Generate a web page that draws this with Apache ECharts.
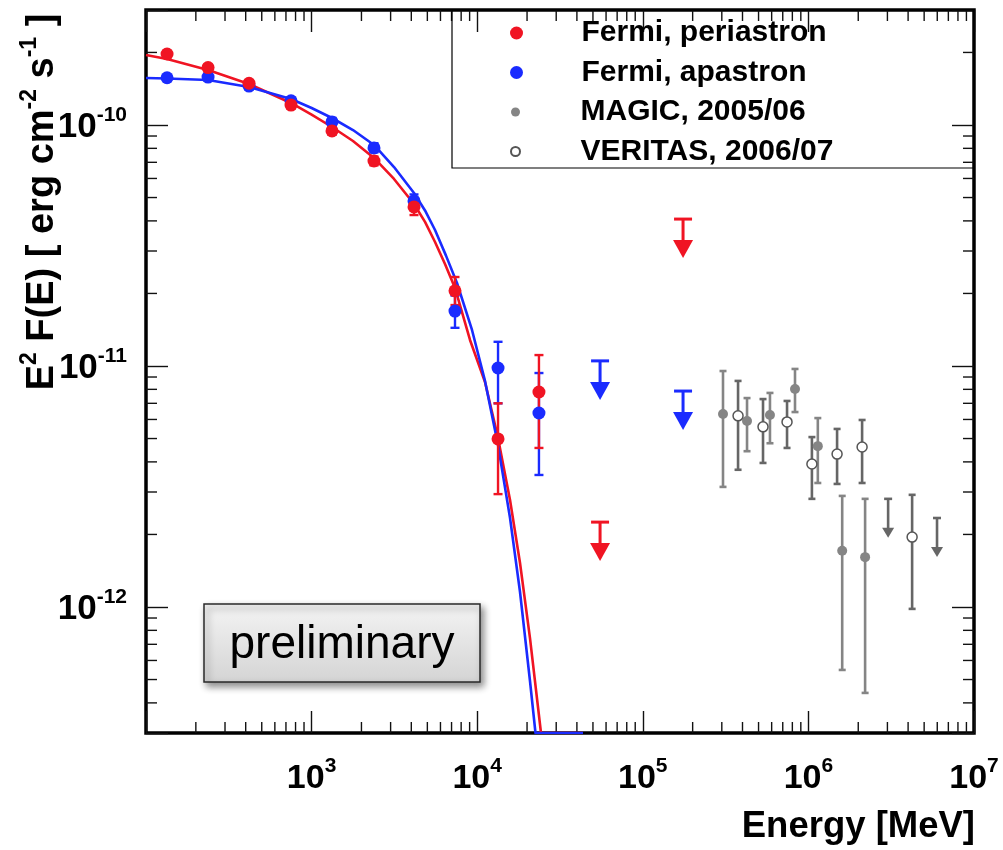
<!DOCTYPE html>
<html>
<head>
<meta charset="utf-8">
<script src="https://cdn.jsdelivr.net/npm/echarts@6/dist/echarts.min.js"></script>
<style>
  html, body { margin: 0; padding: 0; background: #ffffff; }
  #chart { width: 1003px; height: 850px; }
</style>
</head>
<body>
<div id="chart"></div>
<script>
// ---- Fermi-LAT spectral points: energy [MeV], E^2 F(E) [erg cm^-2 s^-1] ----
const fermiEnergy = [134, 237, 419, 751, 1328, 2381, 4153, 7343, 13360, 23600];

const periFlux = [1.97e-10, 1.73e-10, 1.49e-10, 1.21e-10, 9.45e-11, 7.09e-11, 4.57e-11, 2.05e-11, 4.98e-12, 7.8e-12];
const periLow  = [1.91e-10, 1.68e-10, 1.45e-10, 1.17e-10, 9.1e-11, 6.8e-11, 4.23e-11, 1.79e-11, 2.94e-12, 4.57e-12];
const periHigh = [2.03e-10, 1.78e-10, 1.53e-10, 1.25e-10, 9.8e-11, 7.4e-11, 4.93e-11, 2.34e-11, 7.0e-12, 1.11e-11];

const apoFlux = [1.57e-10, 1.58e-10, 1.45e-10, 1.26e-10, 1.03e-10, 8.03e-11, 4.84e-11, 1.69e-11, 9.81e-12, 6.38e-12];
const apoLow  = [1.53e-10, 1.53e-10, 1.41e-10, 1.22e-10, 9.9e-11, 7.7e-11, 4.5e-11, 1.44e-11, 7.0e-12, 3.53e-12];
const apoHigh = [1.61e-10, 1.63e-10, 1.49e-10, 1.30e-10, 1.07e-10, 8.4e-11, 5.15e-11, 1.96e-11, 1.26e-11, 9.35e-12];

// Fermi upper limits
const fermiUlEnergy = [55200, 175000];
const periUl = [2.25e-12, 4.07e-11];
const apoUl  = [1.05e-11, 7.87e-12];

// ---- Fitted spectral models (power law with exponential cut-off) ----
const periCurveE = [100, 134, 237, 419, 751, 1000, 1328, 1778, 2381, 3145, 4153, 4840, 5563, 6391, 7343, 9048, 11145, 13356, 15785, 18136, 20834, 24283, 43550];
const periCurveF = [1.952e-10, 1.879e-10, 1.691e-10, 1.48e-10, 1.234e-10, 1.105e-10, 9.81e-11, 8.58e-11, 7.3e-11, 5.97e-11, 4.7e-11, 3.96e-11, 3.27e-11, 2.65e-11, 2.107e-11, 1.282e-11, 8.58e-12, 5.03e-12, 2.78e-12, 1.523e-12, 7.43e-13, 3.0e-13, 3.0e-13];

const apoCurveE = [100, 134, 237, 419, 751, 1000, 1328, 1778, 2381, 3145, 4153, 4840, 5563, 6480, 7551, 9303, 11145, 13356, 15785, 18136, 20834, 22490, 43550];
const apoCurveF = [1.567e-10, 1.56e-10, 1.537e-10, 1.438e-10, 1.282e-10, 1.176e-10, 1.069e-10, 9.53e-11, 8.26e-11, 6.69e-11, 5.22e-11, 4.42e-11, 3.666e-11, 2.87e-11, 2.21e-11, 1.411e-11, 8.67e-12, 4.7e-12, 2.34e-12, 1.154e-12, 4.93e-13, 3.0e-13, 3.0e-13];

// ---- MAGIC 2005/06 ----
const magicEnergy = [3.05e5, 4.26e5, 5.86e5, 8.30e5, 1.14e6, 1.60e6, 2.20e6];
const magicFlux = [6.32e-12, 5.91e-12, 6.26e-12, 8.03e-12, 4.65e-12, 1.71e-12, 1.61e-12];
const magicLow  = [3.15e-12, 4.43e-12, 4.78e-12, 6.44e-12, 3.27e-12, 5.48e-13, 4.40e-13];
const magicHigh = [9.53e-12, 7.36e-12, 7.73e-12, 9.72e-12, 6.08e-12, 2.89e-12, 2.81e-12];
const magicUlEnergy = [3.03e6, 5.98e6];
const magicUl = [2.81e-12, 2.34e-12];

// ---- VERITAS 2006/07 ----
const veritasEnergy = [3.76e5, 5.32e5, 7.43e5, 1.05e6, 1.49e6, 2.11e6, 4.23e6];
const veritasFlux = [6.21e-12, 5.59e-12, 5.86e-12, 3.92e-12, 4.31e-12, 4.61e-12, 1.95e-12];
const veritasLow  = [3.71e-12, 3.96e-12, 4.57e-12, 2.81e-12, 3.24e-12, 3.27e-12, 9.82e-13];
const veritasHigh = [8.67e-12, 7.29e-12, 7.16e-12, 5.07e-12, 5.48e-12, 5.97e-12, 2.92e-12];

// ---- Axes ----
const X_MIN = 1e2, X_MAX = 1e7;
const Y_MIN = 3e-13, Y_MAX = 3e-10;
const xLabelExponents = [3, 4, 5, 6, 7];
const yLabelExponents = [-12, -11, -10];
const minorMantissas = [2, 3, 4, 5, 6, 7, 8, 9];
const xMinorDecades = [2, 3, 4, 5, 6];
const yMinorDecades = [-13, -12, -11, -10];

const FONT = '"Liberation Sans", Arial, Helvetica, sans-serif';
const RED = '#f01423';
const BLUE = '#1a2bff';
const MAGIC_GREY = '#858585';
const VERITAS_GREY = '#666666';

const xMinorTicks = [];
xMinorDecades.forEach(d => minorMantissas.forEach(m => xMinorTicks.push(m * Math.pow(10, d))));
const yMinorTicks = [];
yMinorDecades.forEach(d => minorMantissas.forEach(m => {
  const v = m * Math.pow(10, d);
  if (v > Y_MIN * 1.001 && v < Y_MAX * 0.999) yMinorTicks.push(v);
}));

function zip(a, b) { return a.map((v, i) => [v, b[i]]); }

function powerLabel(exps) {
  return function (v) {
    const e = Math.round(Math.log10(v));
    if (Math.abs(Math.log10(v) - e) > 1e-6 || exps.indexOf(e) < 0) return '';
    return '{b|10}{s|' + e + '}';
  };
}

// vertical error bars with small end caps
function errorBars(name, energy, low, high, color, capHalf, width) {
  return {
    type: 'custom', name: name, silent: true, clip: true, z: 3,
    data: energy.map((e, i) => [e, low[i], high[i]]),
    encode: { x: 0, y: [1, 2] },
    renderItem: function (params, api) {
      const e = api.value(0);
      const lo = api.coord([e, api.value(1)]);
      const hi = api.coord([e, api.value(2)]);
      const st = { stroke: color, lineWidth: width };
      return {
        type: 'group', children: [
          { type: 'line', shape: { x1: lo[0], y1: lo[1], x2: hi[0], y2: hi[1] }, style: st },
          { type: 'line', shape: { x1: lo[0] - capHalf, y1: lo[1], x2: lo[0] + capHalf, y2: lo[1] }, style: st },
          { type: 'line', shape: { x1: hi[0] - capHalf, y1: hi[1], x2: hi[0] + capHalf, y2: hi[1] }, style: st }
        ]
      };
    }
  };
}

// upper limits: cap at the limit, stem and arrow head pointing down
function upperLimits(name, energy, limit, color, o) {
  return {
    type: 'custom', name: name, silent: true, clip: true, z: 4,
    data: zip(energy, limit),
    encode: { x: 0, y: 1 },
    renderItem: function (params, api) {
      const p = api.coord([api.value(0), api.value(1)]);
      const x = p[0], y = p[1];
      const st = { stroke: color, lineWidth: o.width };
      return {
        type: 'group', children: [
          { type: 'line', shape: { x1: x - o.capHalf, y1: y, x2: x + o.capHalf, y2: y }, style: st },
          { type: 'line', shape: { x1: x, y1: y, x2: x, y2: y + o.len - o.headH + 1 }, style: st },
          { type: 'polygon', shape: { points: [[x - o.headHalf, y + o.len - o.headH], [x + o.headHalf, y + o.len - o.headH], [x, y + o.len]] },
            style: { fill: color } }
        ]
      };
    }
  };
}

const tickStyle = { stroke: '#111', lineWidth: 1.4 };

const xMinorSeries = {
  type: 'custom', name: 'x minor ticks', silent: true, z: 1,
  data: xMinorTicks.map(v => [v, Y_MIN]),
  encode: { x: 0, y: 1 },
  renderItem: function (params, api) {
    const v = api.value(0);
    const b = api.coord([v, Y_MIN]);
    const t = api.coord([v, Y_MAX]);
    return {
      type: 'group', children: [
        { type: 'line', shape: { x1: b[0], y1: b[1], x2: b[0], y2: b[1] - 11 }, style: tickStyle },
        { type: 'line', shape: { x1: t[0], y1: t[1], x2: t[0], y2: t[1] + 11 }, style: tickStyle }
      ]
    };
  }
};

const yMinorSeries = {
  type: 'custom', name: 'y minor ticks', silent: true, z: 1,
  data: yMinorTicks.map(v => [X_MIN, v]),
  encode: { x: 0, y: 1 },
  renderItem: function (params, api) {
    const v = api.value(1);
    const l = api.coord([X_MIN, v]);
    const r = api.coord([X_MAX, v]);
    return {
      type: 'group', children: [
        { type: 'line', shape: { x1: l[0], y1: l[1], x2: l[0] + 11, y2: l[1] }, style: tickStyle },
        { type: 'line', shape: { x1: r[0], y1: r[1], x2: r[0] - 11, y2: r[1] }, style: tickStyle }
      ]
    };
  }
};

const xLabelRich = {
  b: { fontFamily: FONT, fontWeight: 'bold', fontSize: 34, color: '#000', lineHeight: 40, verticalAlign: 'bottom' },
  s: { fontFamily: FONT, fontWeight: 'bold', fontSize: 21, color: '#000', lineHeight: 21, verticalAlign: 'top' }
};
const yLabelRich = {
  b: { fontFamily: FONT, fontWeight: 'bold', fontSize: 35, color: '#000', lineHeight: 40, verticalAlign: 'bottom' },
  s: { fontFamily: FONT, fontWeight: 'bold', fontSize: 21, color: '#000', lineHeight: 21, verticalAlign: 'top' }
};

const majorTick = { show: true, inside: true, length: 22, lineStyle: { color: '#111', width: 1.4 } };

const chart = echarts.init(document.getElementById('chart'), null, { renderer: 'canvas' });

chart.setOption({
  animation: false,
  backgroundColor: '#ffffff',
  grid: {
    left: 146, right: 29, top: 10, bottom: 117,
    show: true, borderColor: '#000', borderWidth: 3.5, backgroundColor: 'transparent',
    containLabel: false, outerBoundsMode: 'none'
  },
  xAxis: [
    {
      type: 'log', logBase: 10, min: X_MIN, max: X_MAX, position: 'bottom',
      axisLine: { show: false }, splitLine: { show: false },
      axisTick: majorTick,
      axisLabel: { show: true, margin: 23, formatter: powerLabel(xLabelExponents), rich: xLabelRich, hideOverlap: false }
    },
    {
      type: 'log', logBase: 10, min: X_MIN, max: X_MAX, position: 'top',
      axisLine: { show: false }, splitLine: { show: false },
      axisTick: majorTick, axisLabel: { show: false }
    }
  ],
  yAxis: [
    {
      type: 'log', logBase: 10, min: Y_MIN, max: Y_MAX, position: 'left',
      axisLine: { show: false }, splitLine: { show: false },
      axisTick: majorTick,
      axisLabel: { show: true, margin: 19, formatter: powerLabel(yLabelExponents), rich: yLabelRich, hideOverlap: false }
    },
    {
      type: 'log', logBase: 10, min: Y_MIN, max: Y_MAX, position: 'right',
      axisLine: { show: false }, splitLine: { show: false },
      axisTick: majorTick, axisLabel: { show: false }
    }
  ],
  legend: [
    {
      data: ['Fermi, periastron', 'Fermi, apastron'],
      orient: 'vertical', left: 510, top: 18, padding: 0,
      itemWidth: 120, itemHeight: 13, itemGap: 9.5, selectedMode: false,
      textStyle: { fontFamily: FONT, fontWeight: 'bold', fontSize: 30, color: '#000', lineHeight: 28 }
    },
    {
      data: ['MAGIC, 2005/06', 'VERITAS, 2006/07'],
      orient: 'vertical', left: 510, top: 97, padding: 0,
      itemWidth: 120, itemHeight: 9, itemGap: 9.5, selectedMode: false,
      textStyle: { fontFamily: FONT, fontWeight: 'bold', fontSize: 30, color: '#000', lineHeight: 28 }
    }
  ],
  graphic: [
    // legend frame
    { type: 'rect', z: 10, shape: { x: 452, y: 10, width: 522, height: 158 },
      style: { fill: 'none', stroke: '#000', lineWidth: 1.2 } },
    // y axis title
    { type: 'text', z: 10, x: 40, y: 202, rotation: Math.PI / 2,
      style: {
        text: '{t|E}{u|2}{t| F(E) [ erg cm}{u|-2}{t| s}{u|-1}{t| ]}',
        align: 'center', verticalAlign: 'middle',
        rich: {
          t: { fontFamily: FONT, fontWeight: 'bold', fontSize: 38, fill: '#000', lineHeight: 44, verticalAlign: 'bottom' },
          u: { fontFamily: FONT, fontWeight: 'bold', fontSize: 23, fill: '#000', lineHeight: 23, verticalAlign: 'top' }
        }
      } },
    // x axis title
    { type: 'text', z: 10, x: 975, y: 827,
      style: { text: 'Energy [MeV]', align: 'right', verticalAlign: 'middle',
        fontFamily: FONT, fontWeight: 'bold', fontSize: 36.5, fill: '#000' } },
    // preliminary stamp
    { type: 'group', z: 10, children: [
      { type: 'rect', shape: { x: 204, y: 604, width: 276, height: 78 },
        style: {
          fill: new echarts.graphic.LinearGradient(0, 0, 0, 1, [
            { offset: 0, color: '#f4f4f4' }, { offset: 1, color: '#d4d4d4' }
          ]),
          stroke: '#2a2a2a', lineWidth: 1.5,
          shadowBlur: 7, shadowOffsetX: 3, shadowOffsetY: 4, shadowColor: 'rgba(0,0,0,0.45)'
        } },
      { type: 'text', x: 342, y: 645,
        style: { text: 'preliminary', align: 'center', verticalAlign: 'middle',
          fontFamily: FONT, fontSize: 46, fill: '#000' } }
    ] }
  ],
  series: [
    xMinorSeries,
    yMinorSeries,
    { type: 'line', name: 'periastron fit', data: zip(periCurveE, periCurveF), showSymbol: false, silent: true, z: 2,
      clip: true, lineStyle: { color: RED, width: 2.6, join: 'round' }, itemStyle: { color: RED } },
    { type: 'line', name: 'apastron fit', data: zip(apoCurveE, apoCurveF), showSymbol: false, silent: true, z: 2,
      clip: true, lineStyle: { color: BLUE, width: 2.6, join: 'round' }, itemStyle: { color: BLUE } },
    errorBars('apastron errors', fermiEnergy, apoLow, apoHigh, BLUE, 4.5, 2.4),
    errorBars('periastron errors', fermiEnergy, periLow, periHigh, RED, 4.5, 2.4),
    { type: 'scatter', name: 'Fermi, apastron', data: zip(fermiEnergy, apoFlux), symbol: 'circle', symbolSize: 13, z: 5,
      itemStyle: { color: BLUE, opacity: 1 } },
    { type: 'scatter', name: 'Fermi, periastron', data: zip(fermiEnergy, periFlux), symbol: 'circle', symbolSize: 13, z: 5,
      itemStyle: { color: RED, opacity: 1 } },
    upperLimits('apastron limits', fermiUlEnergy, apoUl, BLUE, { capHalf: 9, width: 3, len: 39, headH: 18, headHalf: 10 }),
    upperLimits('periastron limits', fermiUlEnergy, periUl, RED, { capHalf: 9, width: 3, len: 39, headH: 18, headHalf: 10 }),
    errorBars('MAGIC errors', magicEnergy, magicLow, magicHigh, MAGIC_GREY, 3.5, 2.6),
    errorBars('VERITAS errors', veritasEnergy, veritasLow, veritasHigh, VERITAS_GREY, 3.5, 2.6),
    upperLimits('MAGIC limits', magicUlEnergy, magicUl, VERITAS_GREY, { capHalf: 4, width: 2.6, len: 39, headH: 10, headHalf: 6 }),
    { type: 'scatter', name: 'MAGIC, 2005/06', data: zip(magicEnergy, magicFlux), symbol: 'circle', symbolSize: 10, z: 5,
      itemStyle: { color: MAGIC_GREY, opacity: 1 } },
    { type: 'scatter', name: 'VERITAS, 2006/07', data: zip(veritasEnergy, veritasFlux), symbol: 'circle', symbolSize: 10, z: 5,
      itemStyle: { color: '#ffffff', borderColor: '#555555', borderWidth: 1.5, opacity: 1 } }
  ]
});
</script>
</body>
</html>
